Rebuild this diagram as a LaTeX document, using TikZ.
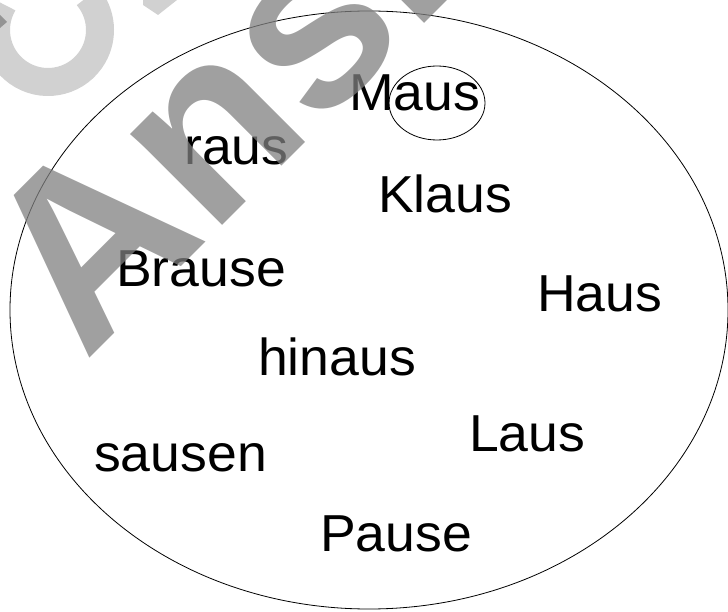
\documentclass[tikz,border=0pt]{standalone}
\usepackage{fontspec}
\setmainfont{Liberation Sans}
\usetikzlibrary{shapes.geometric}
\begin{document}
\begin{tikzpicture}[x=1pt,y=1pt,
  word/.style={anchor=base west, inner sep=0pt, font=\addfontfeatures{FakeStretch=1.03}\fontsize{52}{60}\selectfont},
  wmark/.style={anchor=base west, inner sep=0pt, rotate=45, text=black!50, text opacity=0.75,
    font=\bfseries\fontsize{245}{280}\selectfont},
  ring/.style={draw, ellipse, line width=0.8pt, inner sep=0pt}]
\useasboundingbox (0,0) rectangle (728,611);
\clip (0,0) rectangle (728,611);
% big set
\node[ring, minimum width=718pt, minimum height=598pt] (set) at (369,301) {};
% small ellipse around "aus"
\node[ring, minimum width=96pt, minimum height=74pt] (mark) at (437,508) {};
% words
\node[word] (maus)   at (349,500) {Maus};
\node[word] (raus)   at (184,446) {raus};
\node[word] (klaus)  at (378,398) {Klaus};
\node[word] (brause) at (116,324) {Brause};
\node[word] (haus)   at (537,299) {Haus};
\node[word] (hinaus) at (258,236) {hinaus};
\node[word] (laus)   at (469,160) {Laus};
\node[word] (sausen) at (94,140)  {sausen};
\node[word] (pause)  at (320,60)  {Pause};
% light watermark fragments
\draw[draw=black!18, line width=28pt] (48,581) ++(150:52pt) arc[start angle=150, end angle=400, radius=52pt];
\fill[black!18] (143,611) -- (177,611) -- (158,596) -- (143,606) -- cycle;
% dark watermark
\fill[black!50, opacity=0.75] (0,596) -- (7,589) -- (0,583) -- cycle;
\node[wmark] (wm) at (85,248) {Ansicht};
\end{tikzpicture}
\end{document}
